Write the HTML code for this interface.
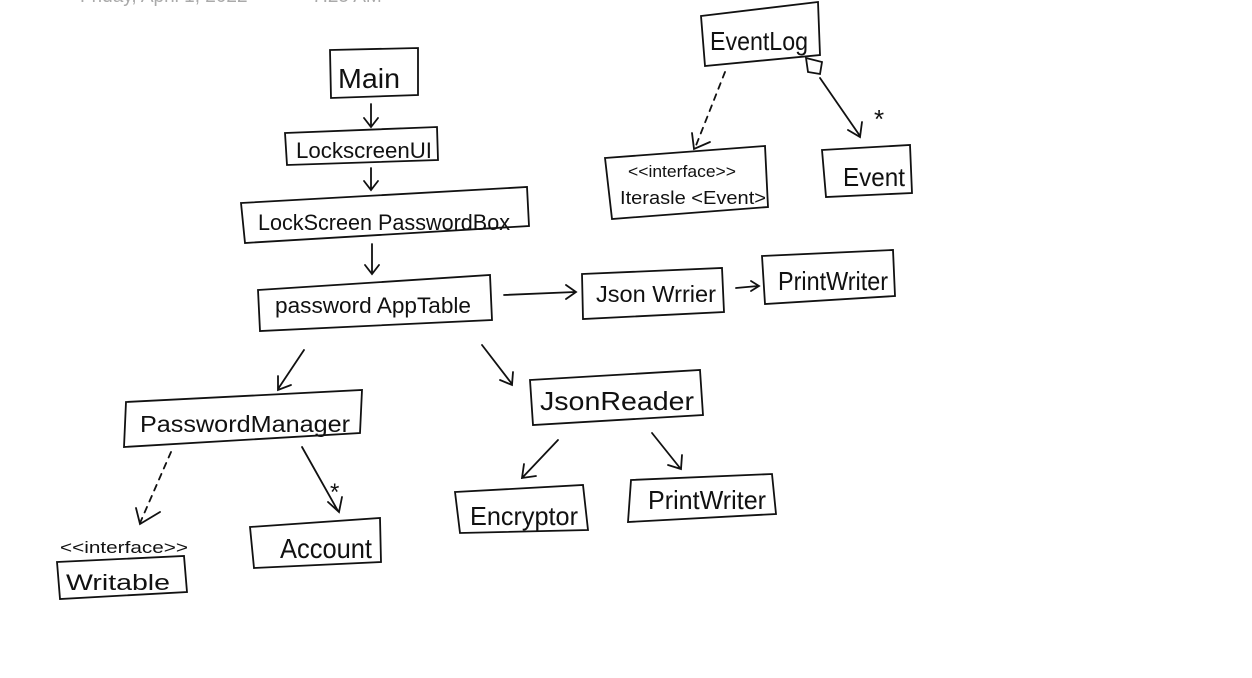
<!DOCTYPE html>
<html><head><meta charset="utf-8"><style>
html,body{margin:0;padding:0;background:#fff;}
svg{display:block}
text{font-family:"Liberation Sans",sans-serif;fill:#111}
</style></head><body>
<svg width="1252" height="678" viewBox="0 0 1252 678" xmlns="http://www.w3.org/2000/svg">
<text x="80" y="2" font-size="19" style="fill:#aaa">Friday, April 1, 2022</text>
<text x="312" y="2" font-size="19" style="fill:#aaa">7:25 AM</text>
<g fill="none" stroke="#111" stroke-width="1.8" stroke-linecap="round">
<path d="M330 50 L418 48 L418 95 L331 98 Z"/>
<path d="M285 133 L437 127 L438 160 L287 165 Z"/>
<path d="M241 203 L527 187 L529 226 L245 243 Z"/>
<path d="M258 290 L490 275 L492 320 L260 331 Z"/>
<path d="M582 274 L722 268 L724 312 L583 319 Z"/>
<path d="M762 256 L893 250 L895 296 L765 304 Z"/>
<path d="M701 16 L818 2 L820 55 L705 66 Z"/>
<path d="M605 158 L765 146 L768 207 L612 219 Z"/>
<path d="M822 150 L910 145 L912 193 L826 197 Z"/>
<path d="M126 402 L362 390 L360 433 L124 447 Z"/>
<path d="M530 380 L700 370 L703 415 L533 425 Z"/>
<path d="M455 492 L583 485 L588 530 L460 533 Z"/>
<path d="M631 480 L772 474 L776 514 L628 522 Z"/>
<path d="M250 527 L380 518 L381 562 L254 568 Z"/>
<path d="M57 562 L184 556 L187 592 L60 599 Z"/>
<path d="M371 104 L371 126 M364 118 L371 127 L378 118"/>
<path d="M371 168 L371 189 M364 181 L371 190 L378 181"/>
<path d="M372 244 L372 273 M365 265 L372 274 L379 265"/>
<path d="M504 295 L575 292 M566 285 L576 292 L566 299"/>
<path d="M736 288 L758 286 M751 281 L759 286 L751 291"/>
<path d="M304 350 L278 389 M278 376 L278 390 L291 385"/>
<path d="M482 345 L512 384 M500 380 L512 385 L513 372"/>
<path d="M558 440 L522 478 M524 464 L522 478 L536 476"/>
<path d="M652 433 L680 468 M668 465 L681 469 L682 455"/>
<path d="M302 447 L338 511 M328 502 L339 512 L342 497"/>
<path d="M171 452 L140 523" stroke-dasharray="6 6"/>
<path d="M136 508 L140 524 L160 512"/>
<path d="M725 72 L695 148" stroke-dasharray="6 6"/>
<path d="M692 133 L694 149 L710 142"/>
<path d="M806 58 L822 62 L820 74 L808 72 Z"/>
<path d="M820 78 L860 136 M848 130 L860 137 L862 122"/>
</g>
<g font-size="24">
<text x="338" y="88" font-size="28" textLength="62" lengthAdjust="spacingAndGlyphs">Main</text>
<text x="296" y="158" font-size="22" textLength="136" lengthAdjust="spacingAndGlyphs">LockscreenUI</text>
<text x="258" y="230" font-size="22" textLength="252" lengthAdjust="spacingAndGlyphs">LockScreen PasswordBox</text>
<text x="275" y="313" font-size="22" textLength="196" lengthAdjust="spacingAndGlyphs">password AppTable</text>
<text x="596" y="302" font-size="23" textLength="120" lengthAdjust="spacingAndGlyphs">Json Wrrier</text>
<text x="778" y="290" font-size="26" textLength="110" lengthAdjust="spacingAndGlyphs">PrintWriter</text>
<text x="710" y="50" font-size="26" textLength="98" lengthAdjust="spacingAndGlyphs">EventLog</text>
<text x="628" y="177" font-size="17" textLength="108" lengthAdjust="spacingAndGlyphs">&lt;&lt;interface&gt;&gt;</text>
<text x="620" y="204" font-size="18" textLength="146" lengthAdjust="spacingAndGlyphs">Iterasle &lt;Event&gt;</text>
<text x="843" y="186" font-size="26" textLength="62" lengthAdjust="spacingAndGlyphs">Event</text>
<text x="874" y="128" font-size="26">*</text>
<text x="140" y="432" font-size="23" textLength="210" lengthAdjust="spacingAndGlyphs">PasswordManager</text>
<text x="540" y="410" font-size="26" textLength="154" lengthAdjust="spacingAndGlyphs">JsonReader</text>
<text x="470" y="525" font-size="26" textLength="108" lengthAdjust="spacingAndGlyphs">Encryptor</text>
<text x="648" y="509" font-size="26" textLength="118" lengthAdjust="spacingAndGlyphs">PrintWriter</text>
<text x="280" y="558" font-size="28" textLength="92" lengthAdjust="spacingAndGlyphs">Account</text>
<text x="330" y="500" font-size="24">*</text>
<text x="60" y="553" font-size="17" textLength="128" lengthAdjust="spacingAndGlyphs">&lt;&lt;interface&gt;&gt;</text>
<text x="66" y="590" font-size="22" textLength="104" lengthAdjust="spacingAndGlyphs">Writable</text>
</g>
</svg>
</body></html>
